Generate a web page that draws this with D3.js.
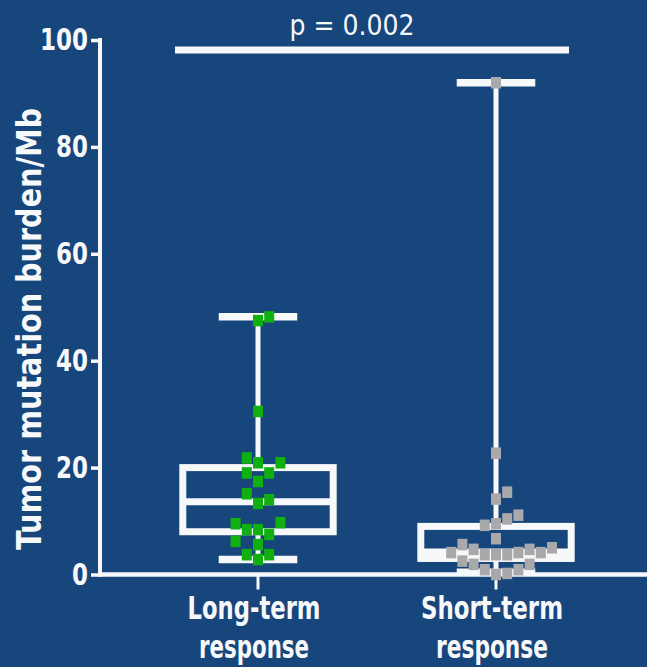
<!DOCTYPE html>
<html>
<head>
<meta charset="utf-8">
<script src="https://cdn.jsdelivr.net/npm/d3@7"></script>
<style>
  html, body { margin: 0; padding: 0; background: #17467c; }
  svg { display: block; }
  text { font-family: "DejaVu Sans Condensed", "DejaVu Sans", sans-serif; fill: #f7f8fa; }
</style>
</head>
<body>
<svg id="chart" width="647" height="667"></svg>
<script>
// ---- data ----
const categories = ["Long-term response", "Short-term response"];
const categoryLines = [["Long-term", "response"], ["Short-term", "response"]];
const longTermValues = [48.2, 47.5, 30.5, 21.8, 20.9, 20.9, 19.0, 19.0, 17.4, 15.1, 14.0, 13.3,
                        9.7, 9.5, 8.4, 8.4, 7.5, 6.2, 5.6, 3.7, 3.7, 2.8];
const shortTermValues = [92.0, 22.7, 15.4, 14.1, 11.1, 10.4, 9.5, 9.2, 6.7, 5.6, 5.0, 4.7, 4.7,
                         4.1, 4.1, 4.1, 3.7, 3.7, 3.7, 2.5, 1.9, 1.9, 0.9, 0.9, 0.2, 0.0];
// box stats: [min, q1, median, q3, max]
const longTermBox = [2.8, 8.0, 13.6, 20.0, 48.2];
const shortTermBox = [0.4, 3.0, 4.2, 9.0, 92.0];
const yTicks = [0, 20, 40, 60, 80, 100];
const yLabel = "Tumor mutation burden/Mb";
const pLabel = "p = 0.002";

const seriesValues = [longTermValues, shortTermValues];
const boxes = [longTermBox, shortTermBox];
const pointColors = ["#10b010", "#a9a9ab"];
const WHITE = "#f7f8fa";

// ---- scales ----
const svg = d3.select("#chart");
svg.append("rect").attr("width", 647).attr("height", 667).attr("fill", "#17467c");

const x = d3.scaleBand().domain(categories).range([139, 615]);
const y = d3.scaleLinear().domain([0, 100]).range([574.5, 40]);
const cx = c => x(c) + x.bandwidth() / 2;
const bw = x.bandwidth();

// ---- y axis ----
const yAxis = svg.append("g")
  .attr("transform", "translate(100,0)")
  .call(d3.axisLeft(y).tickValues(yTicks).tickSize(9).tickSizeOuter(0).tickPadding(3));
yAxis.select(".domain").attr("stroke", WHITE).attr("stroke-width", 4)
  .attr("d", `M0,${y(100) - 2}V${y(0) + 2}`);
yAxis.selectAll(".tick line").attr("stroke", WHITE).attr("stroke-width", 3.5);
yAxis.selectAll(".tick text")
  .style("font-family", '"DejaVu Sans Condensed", "DejaVu Sans", sans-serif')
  .attr("font-size", 30).attr("font-weight", "bold").attr("fill", WHITE)
  .each(function(d) { d3.select(this).attr("textLength", String(d).length * 16).attr("lengthAdjust", "spacingAndGlyphs"); });

// ---- x axis ----
svg.append("line").attr("x1", 98).attr("x2", 647).attr("y1", y(0)).attr("y2", y(0))
  .attr("stroke", WHITE).attr("stroke-width", 4.5);
svg.selectAll(".xtick").data(categories).join("line")
  .attr("x1", d => cx(d)).attr("x2", d => cx(d))
  .attr("y1", y(0)).attr("y2", y(0) + 15)
  .attr("stroke", WHITE).attr("stroke-width", 3);

const lineWidths = [[133, 110], [142, 112]];
categories.forEach((c, i) => {
  categoryLines[i].forEach((t, j) => {
    svg.append("text")
      .attr("x", cx(c) - 4).attr("y", 619 + j * 39)
      .attr("text-anchor", "middle")
      .attr("font-size", 32).attr("font-weight", "bold")
      .attr("textLength", lineWidths[i][j]).attr("lengthAdjust", "spacingAndGlyphs")
      .text(t);
  });
});

// ---- y label ----
svg.append("text")
  .attr("transform", `translate(41,${329}) rotate(-90)`)
  .attr("text-anchor", "middle")
  .attr("font-size", 33).attr("font-weight", "bold")
  .attr("textLength", 442).attr("lengthAdjust", "spacingAndGlyphs")
  .text(yLabel);

// ---- boxes & whiskers ----
categories.forEach((c, i) => {
  const [mn, q1, med, q3, mx] = boxes[i];
  const g = svg.append("g");
  const c0 = cx(c);
  const boxW = bw * 0.632;
  const capW = bw * 0.33;
  g.append("line").attr("x1", c0).attr("x2", c0).attr("y1", y(q3)).attr("y2", y(mx))
    .attr("stroke", WHITE).attr("stroke-width", 5);
  g.append("line").attr("x1", c0).attr("x2", c0).attr("y1", y(q1)).attr("y2", y(mn))
    .attr("stroke", WHITE).attr("stroke-width", 5);
  [mn, mx].forEach(v => {
    g.append("line").attr("x1", c0 - capW / 2).attr("x2", c0 + capW / 2)
      .attr("y1", y(v)).attr("y2", y(v))
      .attr("stroke", WHITE).attr("stroke-width", 7.5);
  });
  g.append("rect").attr("x", c0 - boxW / 2).attr("width", boxW)
    .attr("y", y(q3)).attr("height", y(q1) - y(q3))
    .attr("fill", "none").attr("stroke", WHITE).attr("stroke-width", 7);
  g.append("line").attr("x1", c0 - boxW / 2).attr("x2", c0 + boxW / 2)
    .attr("y1", y(med)).attr("y2", y(med))
    .attr("stroke", WHITE).attr("stroke-width", 7);
});

// ---- points (simple beeswarm) ----
function swarm(values, center, minDx, minDy, step) {
  const pts = values.map(v => ({ v, py: y(v) })).sort((a, b) => b.py - a.py);
  const placed = [];
  pts.forEach((p, idx) => {
    for (let k = 0; k < 40; k++) {
      const cands = k === 0 ? [0] : (idx % 2 ? [k, -k] : [-k, k]);
      let ok = false;
      for (const s of cands) {
        const px = center + s * step;
        if (placed.every(q => Math.abs(q.px - px) >= minDx || Math.abs(q.py - p.py) >= minDy)) {
          p.px = px; ok = true; break;
        }
      }
      if (ok) break;
    }
    placed.push(p);
  });
  return placed;
}

categories.forEach((c, i) => {
  const pts = swarm(seriesValues[i], cx(c), 11, 14.5, 5.6);
  const mw = 10, mh = 11.5;
  svg.append("g").selectAll("rect").data(pts).join("rect")
    .attr("x", d => d.px - mw / 2).attr("y", d => d.py - mh / 2)
    .attr("width", mw).attr("height", mh)
    .attr("fill", pointColors[i]);
});

// ---- significance bar ----
const c0 = cx(categories[0]), c1 = cx(categories[1]);
svg.append("line").attr("x1", c0 - 83).attr("x2", c1 + 73)
  .attr("y1", 50).attr("y2", 50)
  .attr("stroke", WHITE).attr("stroke-width", 7);
svg.append("text")
  .attr("x", (c0 - 83 + c1 + 73) / 2 - 20).attr("y", 35)
  .attr("text-anchor", "middle")
  .attr("font-size", 28)
  .attr("textLength", 125).attr("lengthAdjust", "spacingAndGlyphs")
  .text(pLabel);
</script>
</body>
</html>
